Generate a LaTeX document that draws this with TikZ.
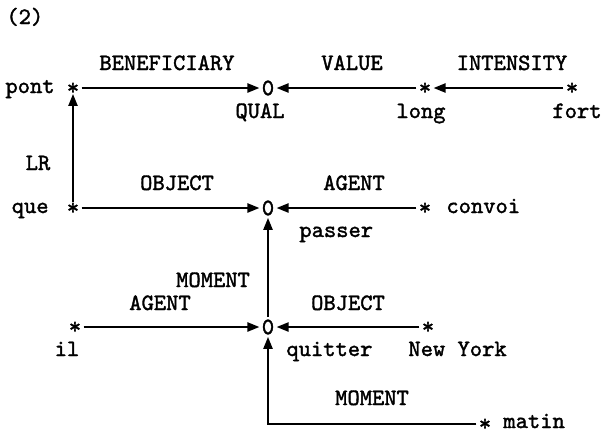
\documentclass[tikz,border=0pt]{standalone}
\usepackage{fontspec}
\newfontfamily\twfam{lmmono10-regular.otf}[FakeBold=1.6]
\usetikzlibrary{arrows.meta}
\newcommand\twfont{\fontsize{11.7}{14}\selectfont\twfam}
\newcommand\astx{\raisebox{-0.26em}[0.18em][0.12em]{*}}
\tikzset{
  txt/.style={font=\twfont, inner sep=0pt},
  starnode/.style={font=\twfont, inner sep=1pt},
  zeronode/.style={font=\twfont, inner sep=1pt},
  arr/.style={-{Triangle[length=6pt,width=4.5pt]}, line width=1.1pt},
}
\begin{document}
\begin{tikzpicture}[x=0.5pt,y=-0.5pt]
\useasboundingbox (0,0) rectangle (603,434);
% title
\node[txt, anchor=base west] (title) at (6,24) {(2)};
% row 1
\node[starnode] (pont) at (73,88) {\astx};
\node[zeronode] (qual) at (268,88) {0};
\node[starnode] (long) at (425,88) {\astx};
\node[starnode] (fort) at (572,88) {\astx};
\node[txt, anchor=base east] (tpont) at (55,93) {pont};
\node[txt, anchor=base] (tqual) at (260,118) {QUAL};
\node[txt, anchor=base] (tlong) at (421,118) {long};
\node[txt, anchor=base] (tfort) at (577,118) {fort};
\node[txt, anchor=base] (lben) at (167,70) {BENEFICIARY};
\node[txt, anchor=base] (lval) at (352,70) {VALUE};
\node[txt, anchor=base] (lint) at (512,70) {INTENSITY};
% row 2
\node[starnode] (que) at (73,208) {\astx};
\node[zeronode] (passer) at (268,208) {0};
\node[starnode] (convoi) at (425,208) {\astx};
\node[txt, anchor=base east] (tque) at (49,213) {que};
\node[txt, anchor=base west] (tconvoi) at (446,213) {convoi};
\node[txt, anchor=base west] (tpasser) at (299,237) {passer};
\node[txt, anchor=base] (llr) at (38,170) {LR};
\node[txt, anchor=base] (lobj1) at (177,190) {OBJECT};
\node[txt, anchor=base] (lag1) at (354,190) {AGENT};
% row 3
\node[starnode] (il) at (75,327) {\astx};
\node[zeronode] (quitter) at (268,327) {0};
\node[starnode] (ny) at (428,327) {\astx};
\node[txt, anchor=base] (til) at (67,356) {il};
\node[txt, anchor=base west] (tquitter) at (286,356) {quitter};
\node[txt, anchor=base west] (tny) at (408,356) {New York};
\node[txt, anchor=base] (lmom1) at (213,287) {MOMENT};
\node[txt, anchor=base] (lag2) at (160,310) {AGENT};
\node[txt, anchor=base] (lobj2) at (348,310) {OBJECT};
% bottom
\node[starnode] (matin) at (485,424) {\astx};
\node[txt, anchor=base west] (tmatin) at (503,428) {matin};
\node[txt, anchor=base] (lmom2) at (372,405) {MOMENT};
% connectors
\draw[arr] (pont) -- (qual);
\draw[arr] (long) -- (qual);
\draw[arr] (fort) -- (long);
\draw[arr] (que) -- (pont);
\draw[arr] (que) -- (passer);
\draw[arr] (convoi) -- (passer);
\draw[arr] (quitter) -- (passer);
\draw[arr] (il) -- (quitter);
\draw[arr] (ny) -- (quitter);
\draw[arr] (matin) -| (quitter);
\end{tikzpicture}
\end{document}
